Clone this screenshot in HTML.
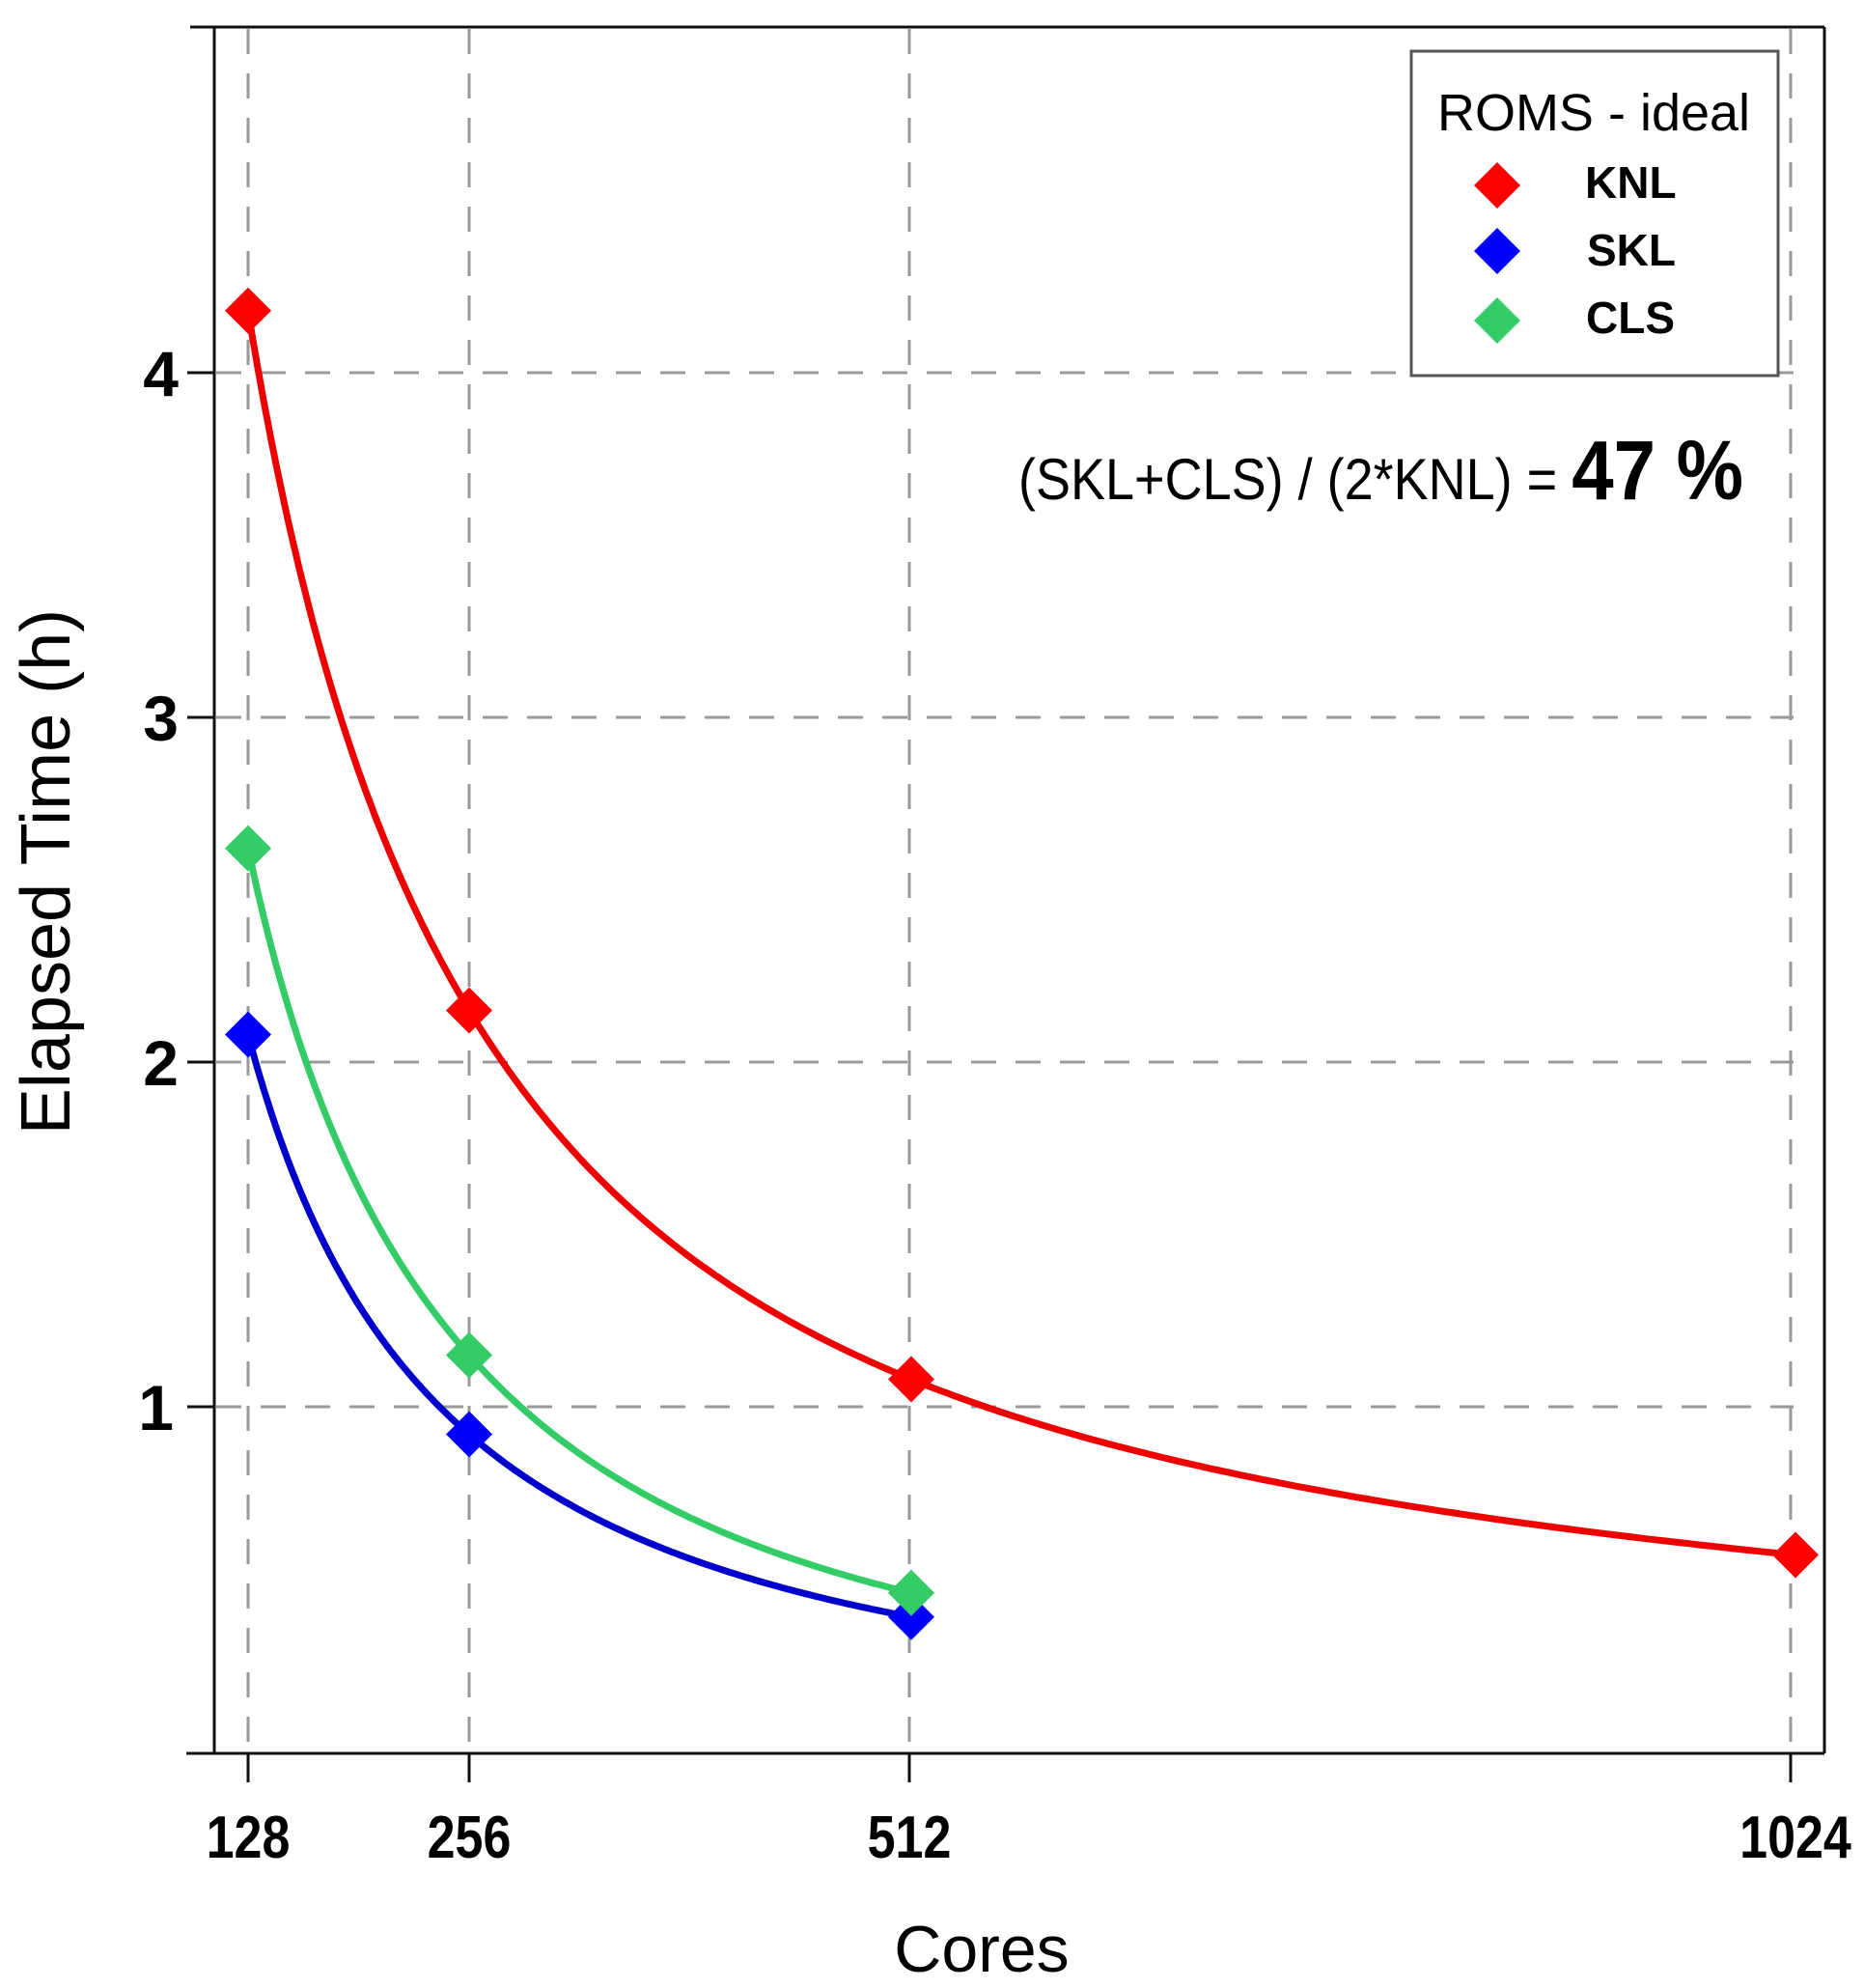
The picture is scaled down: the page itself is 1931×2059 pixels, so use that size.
<!DOCTYPE html>
<html><head><meta charset="utf-8"><style>
html,body{margin:0;padding:0;background:#fff}
svg{display:block}
text{font-family:"Liberation Sans",Arial,sans-serif}
</style></head><body>
<svg id="s" width="1931" height="2059" viewBox="0 0 1931 2059" xmlns="http://www.w3.org/2000/svg">
<rect width="1931" height="2059" fill="#fff"/>
<g stroke="#999" stroke-width="3" stroke-dasharray="26,20" fill="none">
<line x1="257" y1="30" x2="257" y2="1814"/>
<line x1="486" y1="30" x2="486" y2="1814"/>
<line x1="942" y1="30" x2="942" y2="1814"/>
<line x1="1855" y1="30" x2="1855" y2="1814"/>
<line x1="224" y1="386" x2="1858" y2="386"/>
<line x1="224" y1="743" x2="1858" y2="743"/>
<line x1="224" y1="1100" x2="1858" y2="1100"/>
<line x1="224" y1="1457" x2="1858" y2="1457"/>
</g>
<g stroke="#111" stroke-width="3" fill="none">
<line x1="222" y1="28" x2="222" y2="1816"/>
<line x1="197" y1="28" x2="1890" y2="28"/>
<line x1="1890" y1="28" x2="1890" y2="1816"/>
<line x1="193" y1="1816" x2="1890" y2="1816"/>
<line x1="194" y1="386" x2="222" y2="386"/>
<line x1="194" y1="743" x2="222" y2="743"/>
<line x1="194" y1="1100" x2="222" y2="1100"/>
<line x1="194" y1="1457" x2="222" y2="1457"/>
<line x1="257" y1="1816" x2="257" y2="1846"/>
<line x1="486" y1="1816" x2="486" y2="1846"/>
<line x1="942" y1="1816" x2="942" y2="1846"/>
<line x1="1855" y1="1816" x2="1855" y2="1846"/>
</g>
<g id="curves" fill="none" stroke-width="7"></g>
<g id="marks"></g>
<g font-weight="bold" font-size="66" text-anchor="end" fill="#000">
<text x="185" y="410">4</text>
<text x="185" y="767">3</text>
<text x="185" y="1124">2</text>
<text x="180" y="1481">1</text>
</g>
<g font-weight="bold" font-size="52" text-anchor="middle" fill="#000" transform="translate(0,1924) scale(1,1.2)">
<text x="257" y="0">128</text>
<text x="486" y="0">256</text>
<text x="942" y="0">512</text>
<text x="1860" y="0">1024</text>
</g>
<text x="1017" y="2042" font-size="68" text-anchor="middle">Cores</text>
<text transform="translate(72,903) rotate(-90)" font-size="72" text-anchor="middle">Elapsed Time (h)</text>
<rect x="1462" y="53" width="380" height="336" fill="#fff" stroke="#555" stroke-width="3"/>
<text x="1651" y="135" font-size="54" text-anchor="middle">ROMS - ideal</text>
<polygon points="1551,168 1575,192 1551,216 1527,192" fill="#f00"/>
<polygon points="1551,236 1575,260 1551,284 1527,260" fill="#00f"/>
<polygon points="1551,308 1575,332 1551,356 1527,332" fill="#33cc66"/>
<g font-weight="bold" font-size="46">
<text x="1642" y="205">KNL</text>
<text x="1644" y="275">SKL</text>
<text x="1643" y="345">CLS</text>
</g>
<text transform="translate(1055,517) scale(1,1.12)" x="0" y="0" font-size="54">(SKL+CLS) / (2*KNL) = <tspan font-weight="bold" font-size="78">47 %</tspan></text>
</svg>
<script>
var X=function(c){return 28+c*229/128;},Y=function(v){return 1814-v*357;};
var series=[
 {c:"#e00",m:"#f00",d:[[128,4.18],[256,2.15],[512,1.08],[1024,0.57]]},
 {c:"#0000cc",m:"#00f",d:[[128,2.08],[256,0.92],[512,0.39]]},
 {c:"#3c6",m:"#33cc66",d:[[128,2.62],[256,1.15],[512,0.46]]}
];
function spline(xs,ys){var n=xs.length,h=[],a=[],l=[1],mu=[0],z=[0],c=new Array(n).fill(0),b=[],d=[];
for(var i=0;i<n-1;i++)h[i]=xs[i+1]-xs[i];
for(i=1;i<n-1;i++)a[i]=3/h[i]*(ys[i+1]-ys[i])-3/h[i-1]*(ys[i]-ys[i-1]);
for(i=1;i<n-1;i++){l[i]=2*(xs[i+1]-xs[i-1])-h[i-1]*mu[i-1];mu[i]=h[i]/l[i];z[i]=(a[i]-h[i-1]*z[i-1])/l[i];}
for(i=n-2;i>=0;i--){c[i]=(i>0)?z[i]-mu[i]*c[i+1]:0;b[i]=(ys[i+1]-ys[i])/h[i]-h[i]*(c[i+1]+2*c[i])/3;d[i]=(c[i+1]-c[i])/(3*h[i]);}
return function(x){for(var k=0;k<n-2&&x>xs[k+1];k++);var t=x-xs[k];return ys[k]+b[k]*t+c[k]*t*t+d[k]*t*t*t;};}
var NS="http://www.w3.org/2000/svg",g=document.getElementById("curves"),mk=document.getElementById("marks");
series.forEach(function(s){
var lx=s.d.map(function(p){return Math.log(p[0]);}),ly=s.d.map(function(p){return Math.log(p[1]);});
var f=spline(lx,ly),x0=s.d[0][0];
var p="M"+X(x0)+","+Y(s.d[0][1]);
for(var i=1;i<=300;i++){var c=Math.exp(lx[0]+(lx[lx.length-1]-lx[0])*i/300);p+=" L"+X(c).toFixed(1)+","+Y(Math.exp(f(Math.log(c)))).toFixed(1);}
var e=document.createElementNS(NS,"path");e.setAttribute("d",p);e.setAttribute("stroke",s.c);g.appendChild(e);
s.d.forEach(function(pt){var x=X(pt[0]),y=Y(pt[1]),q=document.createElementNS(NS,"polygon");
q.setAttribute("points",x+","+(y-24)+" "+(x+24)+","+y+" "+x+","+(y+24)+" "+(x-24)+","+y);q.setAttribute("fill",s.m);mk.appendChild(q);});});
</script>
</body></html>
